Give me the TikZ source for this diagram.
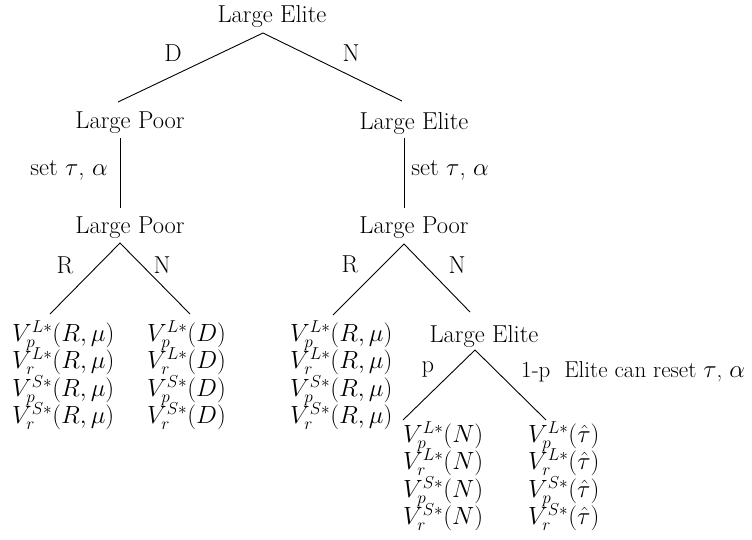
\documentclass[tikz,border=0pt]{standalone}
\newcommand\leafspacing{\lineskiplimit=-50pt\relax\lineskip=0pt\relax}
\begin{document}
\begin{tikzpicture}[x=1pt,y=-1pt,
  every node/.style={inner sep=0pt, font=\fontsize{24.5}{27.5}\selectfont},
  lbl/.style={},
  leaf/.style={anchor=north west, align=left, font=\fontsize{24.5}{27.5}\selectfont\leafspacing},
  edge/.style={draw, line width=0.9pt}]
\useasboundingbox (0,0) rectangle (752,539);
% decision nodes
\node[lbl] (r)  at (272,16)  {Large Elite};
\node[lbl] (p1) at (130,123) {Large Poor};
\node[lbl] (e1) at (414,123) {Large Elite};
\node[lbl] (p2) at (130,228) {Large Poor};
\node[lbl] (p3) at (414,228) {Large Poor};
\node[lbl] (e3) at (484,336) {Large Elite};
% leaves
\node[leaf] (l1) at (12,320)  {$V_p^{L*}(R,\mu)$\\$V_r^{L*}(R,\mu)$\\$V_p^{S*}(R,\mu)$\\$V_r^{S*}(R,\mu)$};
\node[leaf] (l2) at (147,320) {$V_p^{L*}(D)$\\$V_r^{L*}(D)$\\$V_p^{S*}(D)$\\$V_r^{S*}(D)$};
\node[leaf] (l3) at (290,320) {$V_p^{L*}(R,\mu)$\\$V_r^{L*}(R,\mu)$\\$V_p^{S*}(R,\mu)$\\$V_r^{S*}(R,\mu)$};
\node[leaf] (l4) at (403,421) {$V_p^{L*}(N)$\\$V_r^{L*}(N)$\\$V_p^{S*}(N)$\\$V_r^{S*}(N)$};
\node[leaf] (l5) at (528,421) {$V_p^{L*}(\hat\tau)$\\$V_r^{L*}(\hat\tau)$\\$V_p^{S*}(\hat\tau)$\\$V_r^{S*}(\hat\tau)$};
% connector end points
\coordinate (ra) at (263,33);
\coordinate (p1t) at (118,102);
\coordinate (e1t) at (402,101);
\coordinate (p1b) at (120,138);
\coordinate (p2t) at (120,208);
\coordinate (e1b) at (404,138);
\coordinate (p3t) at (404,208);
\coordinate (p2a) at (120,243);
\coordinate (l1t) at (50,314);
\coordinate (l2t) at (190,314);
\coordinate (p3a) at (404,244);
\coordinate (l3t) at (333,315);
\coordinate (e3t) at (470,312);
\coordinate (e3a) at (475,350);
\coordinate (l4t) at (403,420);
\coordinate (l5t) at (546,420);
% connectors
\draw[edge] (p1t) -- (ra) -- (e1t);
\draw[edge] (p1b) -- (p2t);
\draw[edge] (e1b) -- (p3t);
\draw[edge] (l1t) -- (p2a) -- (l2t);
\draw[edge] (l3t) -- (p3a) -- (e3t);
\draw[edge] (l4t) -- (e3a) -- (l5t);
% edge labels
\node (dl) at (173,53) {D};
\node (nl) at (351,53) {N};
\node (s1) at (69,170) {set $\tau$, $\alpha$};
\node (s2) at (450,170) {set $\tau$, $\alpha$};
\node (rl1) at (65,265) {R};
\node (nl1) at (162,265) {N};
\node (rl2) at (350,264) {R};
\node (nl2) at (457,265) {N};
\node (pl) at (428,370) {p};
\node[anchor=west, font=\fontsize{23}{26}\selectfont] (ql) at (521,372) {1-p\hspace{0.6em}Elite can reset $\tau$, $\alpha$};
\end{tikzpicture}
\end{document}
